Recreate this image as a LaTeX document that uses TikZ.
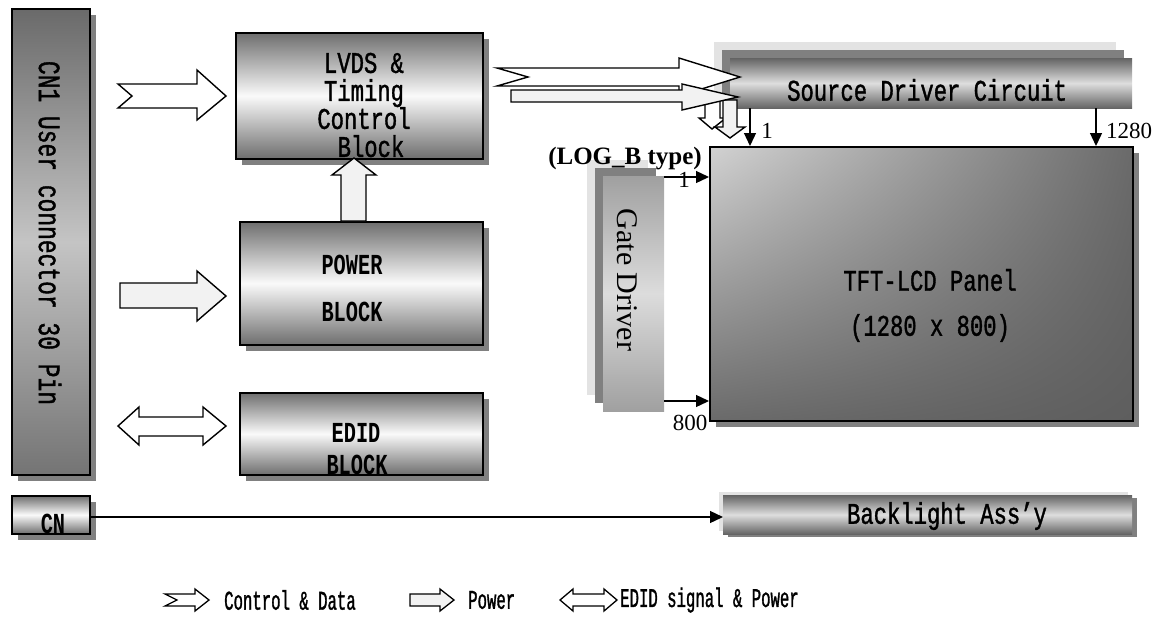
\documentclass[tikz,border=0pt]{standalone}
\usepackage{fontspec}
\setmainfont{Liberation Serif}
\newfontfamily\lblfont[FakeStretch=0.74,FakeBold=1.2]{Liberation Mono}
\newfontfamily\legfont[FakeStretch=0.58,FakeBold=1.2]{Liberation Mono}
\newfontfamily\lblbf[FakeStretch=0.70]{Liberation Mono Bold}
\usetikzlibrary{shadows,arrows.meta,shadings}
\definecolor{shgray}{HTML}{808080}
\definecolor{lgray}{HTML}{E3E3E3}
\definecolor{bandD}{HTML}{6E6E6E}
\definecolor{bandL}{HTML}{FAFAFA}
\definecolor{srcD}{HTML}{646464}
\definecolor{srcL}{HTML}{DEDEDE}
\definecolor{cnA}{HTML}{6A6A6A}
\definecolor{cnB}{HTML}{C4C4C4}
\definecolor{cnC}{HTML}{747474}
\definecolor{gateD}{HTML}{A0A0A0}
\definecolor{gateL}{HTML}{DCDCDC}
\definecolor{panL}{HTML}{D2D2D2}
\definecolor{panM}{HTML}{6A6A6A}
\definecolor{panD}{HTML}{5E5E5E}
\definecolor{pwfill}{HTML}{F2F2F2}
\tikzset{
  blk/.style={draw=black, line width=1.5pt, inner sep=0pt, anchor=north west,
    general shadow={fill=shgray, shadow xshift=6pt, shadow yshift=-6pt}},
  bands/.style={top color=bandD, bottom color=bandD, middle color=bandL},
  srcbands/.style={top color=srcD, bottom color=srcD, middle color=srcL},
  stackbox/.style={inner sep=0pt, anchor=north west,
    general shadow={fill=lgray, shadow xshift=-#1pt, shadow yshift=#1pt},
    general shadow={fill=shgray, shadow xshift=-#1pt/2, shadow yshift=#1pt/2}},
  blbox/.style={inner sep=0pt, anchor=north west,
    general shadow={fill=lgray, shadow xshift=-4pt, shadow yshift=3pt},
    general shadow={fill=shgray, shadow xshift=5pt, shadow yshift=-3pt}},
  lbl/.style={font=\lblfont\fontsize{30}{28}\selectfont, inner sep=1pt},
  lblb/.style={font=\lblbf\fontsize{29}{28}\selectfont, inner sep=1pt},
  leg/.style={font=\legfont\fontsize{27}{27}\selectfont, inner sep=0pt, anchor=west},
  num/.style={font=\fontsize{23}{23}\selectfont, inner sep=0pt},
  tarrow/.style={line width=1.3pt, -{Triangle[length=13pt,width=12pt]}},
  harrow/.style={draw=black, line width=1.4pt, fill=white, line join=miter},
  parrow/.style={harrow, fill=pwfill},
}
\begin{document}
\begin{tikzpicture}[x=1pt,y=-1pt]
\useasboundingbox (0,0) rectangle (1156,622);

% CN1 column
\node[blk, minimum width=78pt, minimum height=466pt,
      top color=cnA, bottom color=cnC, middle color=cnB] (cn1) at (11,8) {};
\node[lbl, rotate=-90, font=\lblfont\fontsize{31}{31}\selectfont] (cn1t) at (50,233) {CN1 User connector 30 Pin};

% LVDS block
\node[blk, bands, minimum width=247pt, minimum height=126pt] (lvds) at (235,32) {};
\node[lbl, align=center] (lvdst) at (364,105) {LVDS \&\\Timing\\Control\\\hspace*{14pt}Block};

% POWER block
\node[blk, bands, minimum width=243pt, minimum height=123pt] (pwr) at (239,221) {};
\node[lblb] (pwrt1) at (352,265) {POWER};
\node[lblb] (pwrt2) at (352,312) {BLOCK};

% EDID block
\node[blk, bands, minimum width=243pt, minimum height=82pt] (edid) at (239,392) {};
\node[lblb] (edidt1) at (356,433) {EDID};
\node[lblb] (edidt2) at (357,465) {BLOCK};

% CN small
\node[blk, bands, minimum width=78pt, minimum height=38pt] (cn) at (11,495) {};
\node[lblb] (cnt) at (53,524) {CN};

% Source driver
\node[stackbox=16, srcbands, minimum width=402pt, minimum height=50pt] (src) at (730,58) {};
\node[lbl, anchor=west] (srct) at (786,90) {Source Driver Circuit};

% Gate driver
\node[stackbox=16, top color=gateD, bottom color=gateD, middle color=gateL,
      minimum width=61pt, minimum height=235pt] (gate) at (603,176) {};
\node[rotate=-90, font=\fontsize{30}{30}\selectfont, inner sep=0pt] (gatet) at (627,280) {Gate Driver};
\node[font=\bfseries\fontsize{25}{25}\selectfont, inner sep=0pt] (logb) at (625,159) {(LOG\_B type)};

% TFT panel
\node[blk, minimum width=423pt, minimum height=274pt,
      upper left=panL, upper right=panM, lower left=panM, lower right=panD] (tft) at (709,146) {};
\node[lbl] (tftt1) at (930,280) {TFT-LCD Panel};
\node[lbl] (tftt2) at (930,328) {(1280 x 800)};

% Backlight
\node[blbox, srcbands, minimum width=409pt, minimum height=39pt] (bl) at (723,495) {};
\node[lbl] (blt) at (947,516) {Backlight Ass’y};

% thin arrows
\draw[tarrow] (src.south -| 750,0) -- (tft.north -| 750,0);
\draw[tarrow] (src.south -| 1096,0) -- (tft.north -| 1096,0);
\node[num] (n1a) at (767,131) {1};
\node[num] (n1280) at (1129,131) {1280};
\draw[tarrow] (gate.east |- 0,177) -- (tft.west |- 0,177);
\draw[tarrow] (gate.east |- 0,401) -- (tft.west |- 0,401);
\node[num] (n1b) at (684,180) {1};
\node[num] (n800) at (690,423) {800};
\draw[tarrow] (cn.east |- 0,517) -- (bl.west |- 0,517);

% hollow arrows
\draw[harrow] (118,84) -- (132,96) -- (118,108) -- (197,108) -- (197,120) -- (226,96) -- (197,70) -- (197,84) -- cycle;
\draw[parrow] (120,283) -- (197,283) -- (197,271) -- (226,296) -- (197,321) -- (197,308) -- (120,308) -- cycle;
\draw[harrow] (118,426) -- (139,407) -- (139,417) -- (203,417) -- (203,407) -- (226,426) -- (203,445) -- (203,436) -- (139,436) -- (139,445) -- cycle;
\draw[parrow] (341,221) -- (341,175) -- (332,175) -- (354,158) -- (376,175) -- (366,175) -- (366,221) -- cycle;
% small down arrows under source driver
\draw[harrow] (705,98) -- (720,98) -- (720,118) -- (726,118) -- (712,129) -- (699,118) -- (705,118) -- cycle;
\draw[parrow] (723,100) -- (737,100) -- (737,127) -- (745,127) -- (730,138) -- (715,127) -- (723,127) -- cycle;
% LVDS to source
\draw[harrow] (497,68) -- (528,77) -- (497,86) -- (679,86) -- (679,96) -- (740,77) -- (679,58) -- (679,68) -- cycle;
\draw[parrow] (511,90) -- (682,90) -- (682,84) -- (738,97) -- (682,110) -- (682,102) -- (511,102) -- cycle;

% legend
\draw[harrow, line width=1.3pt] (165,594) -- (177,600) -- (165,606) -- (195,606) -- (195,611) -- (209,600) -- (195,589) -- (195,594) -- cycle;
\node[leg] (legc) at (224,600) {Control \& Data};
\draw[parrow, line width=1.3pt] (410,594) -- (440,594) -- (440,589) -- (454,600) -- (440,611) -- (440,606) -- (410,606) -- cycle;
\node[leg] (legp) at (468,600) {Power};
\draw[harrow, line width=1.3pt] (560,600) -- (573,589) -- (573,594) -- (604,594) -- (604,589) -- (617,600) -- (604,611) -- (604,606) -- (573,606) -- (573,611) -- cycle;
\node[leg] (lege) at (620,600) {EDID signal \& Power};
\end{tikzpicture}
\end{document}
